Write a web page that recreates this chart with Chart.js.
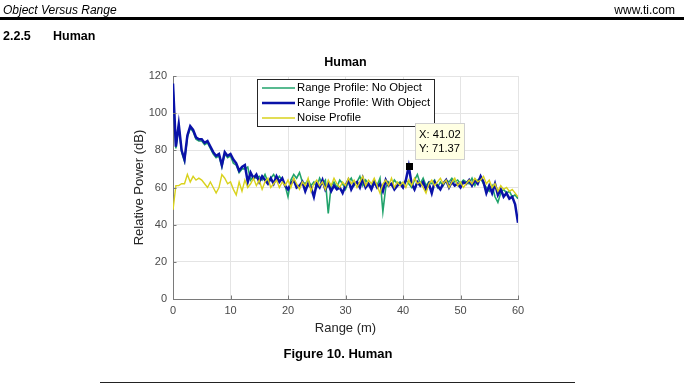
<!DOCTYPE html>
<html>
<head>
<meta charset="utf-8">
<title>Human - Object Versus Range</title>
<script src="https://cdn.jsdelivr.net/npm/chart.js@4.4.1/dist/chart.umd.min.js"></script>
<style>
  body { margin: 0; background: #fff; }
  #page { position: relative; width: 684px; height: 385px; overflow: hidden; font-family: "Liberation Sans", Arial, sans-serif; }
  #chart { position: absolute; left: 0; top: 0; }
  .txt { position: absolute; white-space: nowrap; color: #000; line-height: 1; }
</style>
</head>
<body>
<div id="page">
  <canvas id="chart" width="684" height="385"></canvas>
  <div class="txt" style="left:3px;top:4px;font-style:italic;font-size:12px;">Object Versus Range</div>
  <div class="txt" style="right:9px;top:4px;font-size:12px;">www.ti.com</div>
  <div style="position:absolute;left:0;top:17px;width:684px;height:3px;background:#000;"></div>
  <div class="txt" style="left:3px;top:30px;font-weight:bold;font-size:12.5px;">2.2.5</div>
  <div class="txt" style="left:53px;top:30px;font-weight:bold;font-size:12.5px;">Human</div>
  <div class="txt" style="left:0;width:676px;text-align:center;top:347px;font-weight:bold;font-size:13px;">Figure 10. Human</div>
  <div style="position:absolute;left:100px;top:382px;width:475px;height:1px;background:#222;"></div>
</div>
<script>
// range bins are 0.5 m apart, 0 .. 60 m
var rangeStep = 0.5;

var seriesNames = ["Range Profile: No Object", "Range Profile: With Object", "Noise Profile"];

// Range Profile: No Object (dB), 10 values per 5 m
var noObject = [
  115, 81, 93, 79, 74, 87, 92, 90, 86, 85,
  85, 83, 84, 81, 78, 76, 77, 71, 78, 76,
  77, 73, 72, 68, 70, 70, 71, 64, 66, 65,
  66, 64, 67, 63, 65, 67, 64, 66, 64, 61,
  55, 64, 67, 65, 68, 63, 62, 64, 61, 63,
  60, 65, 62, 64, 46, 61, 63, 60, 64, 62,
  59, 63, 65, 61, 63, 66, 61, 64, 62, 60,
  64, 61, 65, 47, 60, 63, 61, 64, 62, 63,
  61, 64, 62, 60, 64, 67, 62, 65, 61, 63,
  62, 64, 60, 63, 61, 64, 63, 65, 63, 64,
  62, 64, 63, 62, 65, 61, 64, 65, 62, 60,
  58, 61, 55, 52, 57, 59, 57, 58, 55, 56,
  54
];

// Range Profile: With Object (dB)
var withObject = [
  116, 82, 94, 80, 75, 88, 93, 91, 87, 86,
  86, 84, 85, 82, 79, 77, 78, 72, 79, 77,
  78, 75, 73, 69, 71, 72, 63, 68, 65, 67,
  63, 66, 64, 62, 65, 62, 66, 63, 65, 61,
  59, 62, 64, 60, 61, 63, 58, 62, 60, 55,
  62, 60, 64, 59, 62, 58, 61, 59, 60, 57,
  61, 64, 59, 62, 63, 60, 65, 60, 62, 59,
  63, 60, 62, 58, 64, 61, 62, 59, 61, 62,
  60, 64, 71.37, 62, 59, 63, 61, 63, 59, 62,
  57, 63, 61, 59, 62, 64, 60, 63, 61, 62,
  60, 63, 62, 64, 61, 64, 62, 66, 63, 57,
  61, 57, 62, 56, 59, 55, 57, 54, 55, 51,
  41
];

// Noise Profile (dB)
var noiseProfile = [
  48, 61, 61, 62, 62, 67, 63, 66, 64, 65,
  64, 62, 60, 63, 60, 57, 60, 67, 65, 62,
  63, 59, 56, 63, 58, 64, 60, 62, 65, 61,
  64, 59, 63, 65, 60, 62, 64, 60, 63, 61,
  64, 60, 65, 62, 59, 63, 61, 65, 58, 62,
  64, 61, 63, 59, 64, 61, 65, 62, 60, 63,
  61, 65, 62, 64, 60, 63, 66, 61, 64, 62,
  65, 61, 57, 62, 64, 61, 65, 60, 63, 61,
  63, 60, 64, 61, 65, 62, 63, 60, 57, 62,
  64, 61, 63, 65, 62, 64, 60, 63, 65, 61,
  63, 60, 62, 64, 62, 65, 63, 64, 66, 62,
  64, 60, 62, 58, 61, 59, 60, 58, 59, 57,
  55
];

var xTicks = [0, 10, 20, 30, 40, 50, 60];
var yTicks = [0, 20, 40, 60, 80, 100, 120];
var seriesColors = ["#21a36b", "#0a12a8", "#d9d21c"];
var seriesWidths = [1.6, 2.5, 1.4];

// data tip shown on the plot
var tipX = 41.02;
var tipY = 71.37;

function toPoints(values) {
  return values.map(function (v, i) { return {x: i * rangeStep, y: v}; });
}

var allSeries = [noObject, withObject, noiseProfile];
var datasets = allSeries.map(function (vals, i) {
  return {
    label: seriesNames[i],
    data: toPoints(vals),
    borderColor: seriesColors[i],
    borderWidth: seriesWidths[i],
    pointRadius: 0,
    tension: 0,
    fill: false,
    order: 3 - i // later series drawn on top, like matlab
  };
});

var extras = {
  id: "extras",
  afterDraw: function (chart) {
    var ctx = chart.ctx;
    var a = chart.chartArea;
    var xs = chart.scales.x, ys = chart.scales.y;
    ctx.save();

    // inward tick marks
    ctx.strokeStyle = "#7a7a7a";
    ctx.lineWidth = 1;
    ctx.beginPath();
    yTicks.forEach(function (t) {
      var py = Math.round(ys.getPixelForValue(t)) + 0.5;
      ctx.moveTo(a.left, py); ctx.lineTo(a.left + 3.5, py);
    });
    xTicks.forEach(function (t) {
      var px = Math.round(xs.getPixelForValue(t)) + 0.5;
      ctx.moveTo(px, a.bottom); ctx.lineTo(px, a.bottom - 3.5);
    });
    ctx.stroke();

    // legend box
    var lx = a.left + 84, ly = a.top + 3, lw = 177, lh = 47;
    ctx.fillStyle = "#fff";
    ctx.fillRect(lx, ly, lw, lh);
    ctx.strokeStyle = "#262626";
    ctx.strokeRect(lx + 0.5, ly + 0.5, lw, lh);
    ctx.font = "11.3px 'Liberation Sans', Arial, sans-serif";
    ctx.textBaseline = "middle";
    ctx.textAlign = "left";
    seriesNames.forEach(function (name, i) {
      var ry = ly + 9 + i * 15;
      ctx.strokeStyle = seriesColors[i];
      ctx.lineWidth = seriesWidths[i];
      ctx.beginPath();
      ctx.moveTo(lx + 5, ry); ctx.lineTo(lx + 38, ry);
      ctx.stroke();
      ctx.fillStyle = "#000";
      ctx.fillText(name, lx + 40, ry);
    });

    // data tip
    var mx = xs.getPixelForValue(tipX), my = ys.getPixelForValue(tipY);
    ctx.fillStyle = "#000";
    ctx.fillRect(Math.round(mx) - 3, Math.round(my) - 3, 7, 7);
    var bx = Math.round(mx) + 6, by = Math.round(my) - 43;
    ctx.fillStyle = "#ffffe3";
    ctx.fillRect(bx, by, 49, 36);
    ctx.strokeStyle = "#cfcfcf";
    ctx.lineWidth = 1;
    ctx.strokeRect(bx + 0.5, by + 0.5, 49, 36);
    ctx.fillStyle = "#000";
    ctx.font = "11.2px 'Liberation Sans', Arial, sans-serif";
    ctx.fillText("X: " + tipX.toFixed(2), bx + 4, by + 12);
    ctx.fillText("Y: " + tipY.toFixed(2), bx + 4, by + 26);

    ctx.restore();
  }
};

new Chart(document.getElementById("chart").getContext("2d"), {
  type: "line",
  data: {datasets: datasets},
  plugins: [extras],
  options: {
    responsive: false,
    animation: false,
    devicePixelRatio: 1,
    layout: {padding: {left: 0, top: 0, right: 166, bottom: 0}},
    plugins: {
      legend: {display: false},
      tooltip: {enabled: false},
      title: {
        display: true,
        text: "Human",
        fullSize: false,
        color: "#000",
        font: {family: "'Liberation Sans', Arial, sans-serif", size: 12.5, weight: "bold"},
        padding: {top: 55, bottom: 6}
      }
    },
    scales: {
      x: {
        type: "linear",
        min: 0,
        max: 60,
        afterFit: function (s) { s.height = 86; },
        afterBuildTicks: function (s) { s.ticks = xTicks.map(function (v) { return {value: v}; }); },
        ticks: {color: "#4a4a4a", padding: 5, maxRotation: 0, font: {family: "'Liberation Sans', Arial, sans-serif", size: 11}},
        grid: {color: "#e4e4e4", drawTicks: false},
        border: {color: "#7a7a7a"},
        title: {display: true, text: "Range (m)", color: "#262626", font: {family: "'Liberation Sans', Arial, sans-serif", size: 13}, padding: {top: 0, bottom: 49}}
      },
      y: {
        min: 0,
        max: 120,
        afterFit: function (s) { s.width = 173; },
        afterBuildTicks: function (s) { s.ticks = yTicks.map(function (v) { return {value: v}; }); },
        ticks: {color: "#4a4a4a", padding: 6, font: {family: "'Liberation Sans', Arial, sans-serif", size: 11}},
        grid: {color: "#e4e4e4", drawTicks: false},
        border: {color: "#7a7a7a"},
        title: {display: true, text: "Relative Power (dB)", color: "#262626", font: {family: "'Liberation Sans', Arial, sans-serif", size: 13}, padding: {top: 132, bottom: 0}}
      }
    }
  }
});
</script>
</body>
</html>
